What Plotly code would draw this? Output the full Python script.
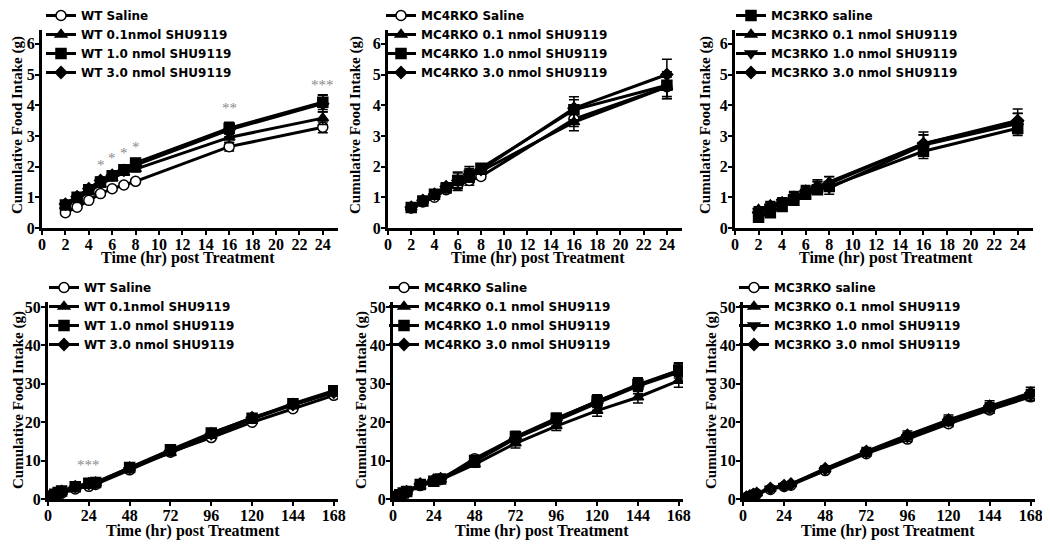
import plotly.graph_objects as go

# page body has an 8 px margin; the figure starts 8 px in from the window corner
OFF = 8
W, H = 1050 - OFF, 546 - OFF

# time points (hr)
t_short = [2, 3, 4, 5, 6, 7, 8, 16, 24]
t_long = [2, 4, 6, 8, 16, 24, 28, 48, 72, 96, 120, 144, 168]

# WT, 0-24 h
wt_s_sal = [0.50, 0.68, 0.90, 1.12, 1.28, 1.40, 1.52, 2.65, 3.28]
wt_s_01 = [0.72, 0.95, 1.18, 1.42, 1.62, 1.80, 1.92, 2.95, 3.58]
wt_s_10 = [0.75, 1.00, 1.25, 1.50, 1.70, 1.90, 2.12, 3.25, 4.10]
wt_s_30 = [0.78, 1.02, 1.28, 1.55, 1.72, 1.88, 2.05, 3.20, 4.05]
wt_s_err = [0.05, 0.06, 0.07, 0.08, 0.08, 0.08, 0.10, 0.18, 0.22]

# MC4RKO, 0-24 h
mc4_s_sal = [0.65, 0.85, 1.00, 1.25, 1.40, 1.55, 1.68, 3.55, 4.60]
mc4_s_01 = [0.67, 0.90, 1.10, 1.30, 1.50, 1.70, 1.85, 3.45, 4.60]
mc4_s_10 = [0.67, 0.88, 1.10, 1.30, 1.55, 1.72, 1.95, 3.85, 4.65]
mc4_s_30 = [0.68, 0.90, 1.10, 1.35, 1.55, 1.75, 1.90, 3.90, 5.00]
mc4_s_err = [0.05, 0.06, 0.08, 0.10, 0.22, 0.20, 0.10, 0.30, 0.40]

# MC3RKO, 0-24 h
mc3_s_sal = [0.35, 0.50, 0.70, 0.90, 1.10, 1.25, 1.35, 2.50, 3.25]
mc3_s_01 = [0.60, 0.75, 0.85, 1.00, 1.20, 1.35, 1.50, 2.75, 3.45]
mc3_s_10 = [0.55, 0.70, 0.85, 1.00, 1.15, 1.30, 1.30, 2.70, 3.40]
mc3_s_30 = [0.50, 0.70, 0.80, 1.00, 1.20, 1.35, 1.45, 2.75, 3.50]
mc3_s_err = [0.10, 0.12, 0.12, 0.15, 0.15, 0.18, 0.18, 0.30, 0.30]

# WT, 0-168 h
wt_l_sal = [0.5, 0.9, 1.3, 1.5, 2.6, 3.3, 3.8, 7.6, 12.2, 16.0, 20.0, 23.5, 27.0]
wt_l_01 = [0.7, 1.2, 1.6, 1.9, 3.0, 3.6, 4.1, 8.0, 12.0, 16.5, 20.8, 24.5, 27.8]
wt_l_10 = [0.75, 1.25, 1.7, 2.1, 3.2, 4.1, 4.3, 8.2, 12.8, 17.2, 21.0, 24.8, 28.2]
wt_l_30 = [0.78, 1.3, 1.7, 2.0, 3.2, 4.0, 4.2, 8.1, 12.6, 17.0, 21.2, 24.6, 27.8]
wt_l_err = [0.1, 0.1, 0.1, 0.2, 0.3, 0.3, 0.3, 0.5, 0.6, 0.6, 0.7, 0.8, 0.8]

# MC4RKO, 0-168 h
mc4_l_sal = [0.65, 1.0, 1.4, 1.7, 3.5, 4.6, 5.1, 10.5, 16.0, 20.8, 25.5, 29.6, 33.4]
mc4_l_01 = [0.67, 1.1, 1.5, 1.85, 3.4, 4.6, 5.0, 9.0, 14.5, 19.0, 23.0, 26.5, 30.8]
mc4_l_10 = [0.67, 1.1, 1.55, 1.95, 3.8, 4.65, 5.2, 10.0, 16.2, 21.0, 25.5, 29.8, 33.5]
mc4_l_30 = [0.68, 1.1, 1.55, 1.9, 3.9, 5.0, 5.3, 9.8, 15.8, 20.5, 25.0, 29.4, 33.0]
mc4_l_err = [0.1, 0.1, 0.2, 0.2, 0.3, 0.4, 0.4, 0.8, 1.3, 1.2, 1.5, 1.6, 1.8]

# MC3RKO, 0-168 h
mc3_l_sal = [0.35, 0.7, 1.1, 1.35, 2.5, 3.25, 3.6, 7.4, 11.8, 15.6, 19.6, 23.2, 26.6]
mc3_l_01 = [0.6, 0.85, 1.2, 1.5, 2.75, 3.45, 3.9, 7.8, 12.3, 16.4, 20.4, 24.0, 27.4]
mc3_l_10 = [0.55, 0.85, 1.15, 1.3, 2.7, 3.4, 3.8, 7.6, 12.0, 16.0, 20.2, 23.6, 27.0]
mc3_l_30 = [0.5, 0.8, 1.2, 1.45, 2.75, 3.5, 3.9, 7.9, 12.4, 16.6, 20.6, 24.2, 27.6]
mc3_l_err = [0.1, 0.1, 0.2, 0.2, 0.4, 0.4, 0.4, 0.6, 0.8, 0.9, 1.0, 1.1, 1.2]

wt_names = ["WT Saline", "WT 0.1nmol SHU9119", "WT 1.0 nmol SHU9119", "WT 3.0 nmol SHU9119"]
mc4_names = ["MC4RKO Saline", "MC4RKO 0.1 nmol SHU9119", "MC4RKO 1.0 nmol SHU9119",
             "MC4RKO 3.0 nmol SHU9119"]
mc3_names = ["MC3RKO saline", "MC3RKO 0.1 nmol SHU9119", "MC3RKO 1.0 nmol SHU9119",
             "MC3RKO 3.0 nmol SHU9119"]

x_ticks_short = list(range(0, 25, 2))
x_ticks_long = [0, 24, 48, 72, 96, 120, 144, 168]
y_ticks_short = [0, 1, 2, 3, 4, 5, 6]
y_ticks_long = [0, 10, 20, 30, 40, 50]

# significance stars
wt_s_star_x = [5, 6, 7, 8, 16, 24]
wt_s_star_y = [2.05, 2.28, 2.45, 2.65, 3.9, 4.66]
wt_s_star_t = ["*", "*", "*", "*", "**", "***"]
wt_l_star_x = [24]
wt_l_star_y = [8.9]
wt_l_star_t = ["***"]


def px(x):
    return (x - OFF) / W


def py(y):
    return 1 - (y - OFF) / H


sym_a = ["circle", "triangle-up", "square", "diamond"]
sym_b = ["square", "triangle-up", "triangle-down", "diamond"]
sym_c = ["circle", "triangle-up", "triangle-down", "diamond"]
fill_a = ["white", "black", "black", "black"]
fill_b = ["black", "black", "black", "black"]

panels = [
    (t_short, [wt_s_sal, wt_s_01, wt_s_10, wt_s_30], wt_names, sym_a, fill_a, wt_s_err),
    (t_short, [mc4_s_sal, mc4_s_01, mc4_s_10, mc4_s_30], mc4_names, sym_a, fill_a, mc4_s_err),
    (t_short, [mc3_s_sal, mc3_s_01, mc3_s_10, mc3_s_30], mc3_names, sym_b, fill_b, mc3_s_err),
    (t_long, [wt_l_sal, wt_l_01, wt_l_10, wt_l_30], wt_names, sym_a, fill_a, wt_l_err),
    (t_long, [mc4_l_sal, mc4_l_01, mc4_l_10, mc4_l_30], mc4_names, sym_a, fill_a, mc4_l_err),
    (t_long, [mc3_l_sal, mc3_l_01, mc3_l_10, mc3_l_30], mc3_names, sym_c, fill_a, mc3_l_err),
]

# screen-pixel boxes of plot areas: x0, x1, ytop, ybottom
boxes = [
    (42, 338, 30, 228), (388, 682, 30, 228), (735, 1033, 30, 228),
    (48, 338, 302, 499), (393, 683, 302, 499), (743, 1035, 302, 499),
]
legend_x = [41, 381, 731, 44, 384, 734]
legend_top = [1, 1, 1, 273, 273, 273]
ytitle_pos = [(18, 125), (356, 125), (706, 125), (18, 400), (361, 400), (711, 400)]
xtitle_pos = [(188, 258), (538, 258), (886, 258), (193, 531), (542, 531), (888, 531)]

fig = go.Figure()
serif = "Liberation Serif, Times New Roman, serif"
legfont = dict(family="DejaVu Sans", size=12, color="black")

for i, (tt, series, names, syms, fills, err) in enumerate(panels):
    k = "" if i == 0 else str(i + 1)
    leg = "legend" if i == 0 else "legend" + str(i + 1)
    for j, (vals, nm, sym, fc) in enumerate(zip(series, names, syms, fills)):
        fig.add_trace(go.Scatter(
            x=tt, y=vals, name="<b>" + nm + "</b>", mode="lines+markers",
            xaxis="x" + k, yaxis="y" + k, legend=leg,
            line=dict(color="black", width=3),
            marker=dict(symbol=sym, size=10 if sym != "diamond" else 9,
                        color=fc, line=dict(color="black", width=1.5)),
            error_y=dict(type="data", array=[e * (0.8 + 0.15 * j) for e in err],
                         color="black", thickness=1.5, width=5),
        ))
    x0, x1, yt, yb = boxes[i]
    top = i < 3
    xt = x_ticks_short if top else x_ticks_long
    yv = y_ticks_short if top else y_ticks_long
    common = dict(showline=True, linewidth=3, linecolor="black", ticks="outside",
                  ticklen=4, tickwidth=2, tickcolor="black", showgrid=False,
                  zeroline=False, tickmode="array",
                  tickfont=dict(family=serif, size=16, color="black"))
    fig.layout["xaxis" + k] = dict(
        domain=[px(x0), px(x1)], anchor="y" + k, ticklabelstandoff=-4,
        range=[0, 25.3] if top else [0, 170.5],
        tickvals=xt, ticktext=["<b>%d</b>" % v for v in xt], **common)
    fig.layout["yaxis" + k] = dict(
        domain=[py(yb), py(yt)], anchor="x" + k, ticklabelstandoff=-3,
        range=[0, 6.45] if top else [0, 51.3],
        tickvals=yv, ticktext=["<b>%d</b>" % v for v in yv], **common)
    fig.layout[leg] = dict(
        x=px(legend_x[i]), y=py(legend_top[i]), xanchor="left", yanchor="top",
        bgcolor="rgba(0,0,0,0)", font=legfont, tracegroupgap=0, itemwidth=30,
    )
    tx, ty = ytitle_pos[i]
    fig.add_annotation(text="<b>Cumulative Food Intake (g)</b>", x=px(tx), y=py(ty),
                       xref="paper", yref="paper", textangle=-90, showarrow=False,
                       xanchor="center", yanchor="middle",
                       font=dict(family=serif, size=15, color="black"))
    tx, ty = xtitle_pos[i]
    fig.add_annotation(text="<b>Time (hr) post Treatment</b>", x=px(tx), y=py(ty),
                       xref="paper", yref="paper", showarrow=False,
                       xanchor="center", yanchor="middle",
                       font=dict(family=serif, size=16, color="black"))

for sx, sy, st in zip(wt_s_star_x, wt_s_star_y, wt_s_star_t):
    fig.add_annotation(text=st, x=sx, y=sy, xref="x", yref="y", showarrow=False,
                       font=dict(family=serif, size=15, color="#8a8a8a"))
for sx, sy, st in zip(wt_l_star_x, wt_l_star_y, wt_l_star_t):
    fig.add_annotation(text=st, x=sx, y=sy, xref="x4", yref="y4", showarrow=False,
                       font=dict(family=serif, size=15, color="#8a8a8a"))

fig.update_layout(
    width=W, height=H, margin=dict(l=0, r=0, t=0, b=0, autoexpand=False),
    paper_bgcolor="white", plot_bgcolor="white",
)

fig.write_html("out.html")
